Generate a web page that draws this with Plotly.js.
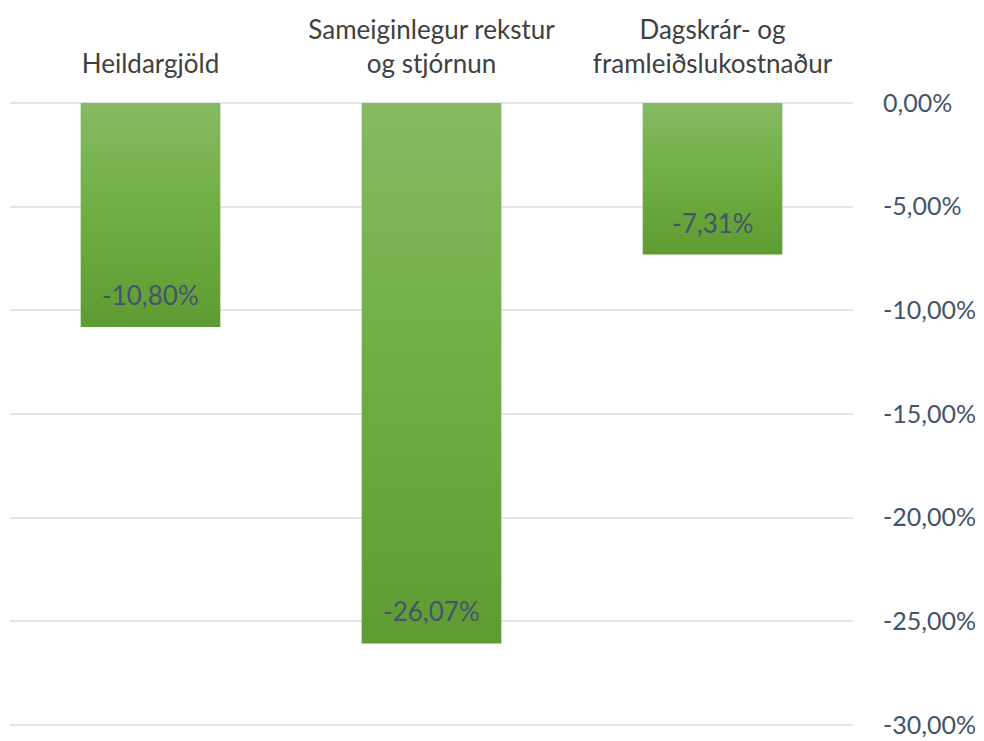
<!DOCTYPE html>
<html>
<head>
<meta charset="utf-8">
<script src="https://cdn.plot.ly/plotly-3.0.1.min.js"></script>
<style>html,body{margin:0;padding:0;background:#fff;}#chart{width:984px;height:741px;}</style>
</head>
<body>
<div id="chart"></div>
<script>
const categories = ["Heildargjöld", "Sameiginlegur rekstur<br>og stjórnun", "Dagskrár- og<br>framleiðslukostnaður"];
const values = [-10.80, -26.07, -7.31];
const tickValues = [0, -5, -10, -15, -20, -25, -30];

const fmt = v => v.toFixed(2).replace('.', ',') + '%';
const font = "Lato, 'Open Sans', sans-serif";

const trace = {
  type: 'bar',
  x: categories,
  y: values,
  width: 0.497,
  marker: {color: '#70ad47', line: {width: 0}},
  hoverinfo: 'none'
};

const annotations = categories.map((c, i) => ({
  x: c, y: values[i], xref: 'x', yref: 'y',
  text: fmt(values[i]), showarrow: false,
  yanchor: 'middle', yshift: 32,
  font: {family: font, size: 26, color: '#44546a'}
}));

const layout = {
  width: 984, height: 741,
  margin: {l: 10, r: 131, t: 101, b: 14},
  paper_bgcolor: '#fff', plot_bgcolor: '#fff',
  showlegend: false,
  separators: ',.',
  xaxis: {
    side: 'top', type: 'category',
    tickvals: categories, ticktext: categories,
    ticks: 'outside', ticklen: 17, tickcolor: 'rgba(0,0,0,0)',
    showgrid: false, zeroline: false, showline: false,
    tickfont: {family: font, size: 26, color: '#404040'}
  },
  yaxis: {
    side: 'right', range: [-30.1, 0.1],
    tickvals: tickValues, ticktext: tickValues.map(fmt),
    ticks: 'outside', ticklen: 24, tickcolor: 'rgba(0,0,0,0)',
    ticklabeloverflow: 'allow',
    showgrid: true, gridcolor: '#e3e5ea', gridwidth: 2,
    zeroline: false, showline: false,
    tickfont: {family: font, size: 25, color: '#44546a'}
  },
  annotations: annotations
};

Plotly.newPlot('chart', [trace], layout, {displayModeBar: false, staticPlot: true}).then(gd => {
  const svg = gd.querySelector('svg.main-svg');
  const ns = 'http://www.w3.org/2000/svg';
  let defs = svg.querySelector('defs');
  if (!defs) { defs = document.createElementNS(ns, 'defs'); svg.insertBefore(defs, svg.firstChild); }
  const g = document.createElementNS(ns, 'linearGradient');
  g.setAttribute('id', 'barGrad');
  g.setAttribute('x1', '0'); g.setAttribute('y1', '0');
  g.setAttribute('x2', '0'); g.setAttribute('y2', '1');
  [['0%', '#85ba63'], ['50%', '#6fae42'], ['100%', '#5e9c33']].forEach(([o, c]) => {
    const s = document.createElementNS(ns, 'stop');
    s.setAttribute('offset', o); s.setAttribute('stop-color', c);
    g.appendChild(s);
  });
  defs.appendChild(g);
  gd.querySelectorAll('.trace.bars .point path').forEach(p => { p.style.fill = 'url(#barGrad)'; });
});
</script>
</body>
</html>
